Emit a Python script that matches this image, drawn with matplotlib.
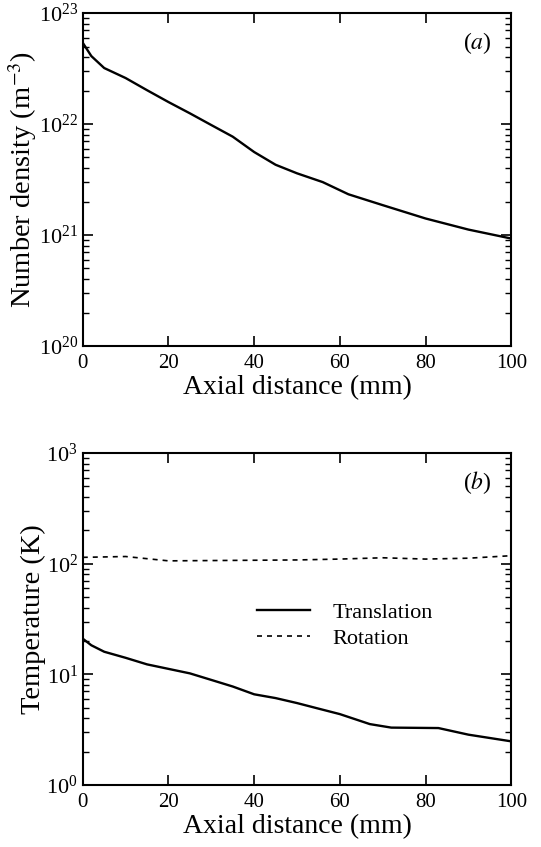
import matplotlib
matplotlib.use("Agg")
import matplotlib.pyplot as plt
from matplotlib.ticker import LogLocator, NullFormatter, FixedLocator

plt.rcParams['font.family'] = ['Liberation Serif', 'DejaVu Serif']
plt.rcParams['mathtext.fontset'] = 'stix'

# Panel (a): number density
xa = [0, 2, 5, 10, 15, 20, 25, 30, 35, 40, 45, 50, 56, 62, 70, 80, 90, 100]
density = [5.4e22, 4.1e22, 3.2e22, 2.6e22, 2.02e22, 1.58e22, 1.25e22, 9.8e21, 7.7e21,
           5.6e21, 4.3e21, 3.6e21, 3.0e21, 2.33e21, 1.86e21, 1.41e21, 1.12e21, 9.3e20]

# Panel (b): temperatures
xt = [0, 2, 5, 10, 15, 20, 25, 30, 35, 40, 45, 50, 55, 60, 67, 72, 83, 90, 100]
t_trans = [21, 18.3, 16, 14.1, 12.3, 11.2, 10.2, 8.9, 7.76, 6.6, 6.1, 5.5, 4.9, 4.37,
           3.55, 3.3, 3.27, 2.85, 2.48]
xr = [0, 10, 20, 35, 50, 60, 70, 80, 90, 100]
t_rot = [114, 116, 106, 107, 108, 110, 113, 110, 112, 118]

xticks = [0, 20, 40, 60, 80, 100]

fig = plt.figure(figsize=(5.41, 8.47), dpi=100)
ax1 = fig.add_axes([0.153, 0.5915, 0.792, 0.393])
ax2 = fig.add_axes([0.153, 0.0732, 0.792, 0.392])

def style(ax, ylo, yhi, ylabel):
    ax.set_yscale('log')
    ax.set_xlim(0, 100)
    ax.set_ylim(ylo, yhi)
    ax.xaxis.set_major_locator(FixedLocator(xticks))
    ax.yaxis.set_major_locator(LogLocator(base=10, numticks=10))
    ax.yaxis.set_minor_locator(LogLocator(base=10, subs=range(2, 10), numticks=10))
    ax.yaxis.set_minor_formatter(NullFormatter())
    ax.tick_params(which='both', direction='in', top=True, right=True)
    ax.tick_params(axis='x', labelsize=15, pad=6)
    ax.tick_params(axis='y', labelsize=16)
    ax.tick_params(which='major', length=7, width=1.2)
    ax.tick_params(which='minor', length=4, width=1.0)
    for s in ax.spines.values():
        s.set_linewidth(1.5)
    ax.set_xlabel('Axial distance (mm)', fontsize=20, labelpad=1)
    ax.set_ylabel(ylabel, fontsize=20.5, labelpad=0)

ax1.plot(xa, density, color='black', lw=1.7)
style(ax1, 1e20, 1e23, 'Number density (m$^{-3}$)')
ax1.text(0.955, 0.91, '($a$)', transform=ax1.transAxes, ha='right', va='center', fontsize=17)

ax2.plot(xt, t_trans, color='black', lw=1.7, label='Translation')
ax2.plot(xr, t_rot, color='black', lw=1.2, ls=(0, (3, 3)), label='Rotation')
style(ax2, 1, 1e3, 'Temperature (K)')
ax2.text(0.955, 0.91, '($b$)', transform=ax2.transAxes, ha='right', va='center', fontsize=17)
ax2.legend(loc='upper left', bbox_to_anchor=(0.36, 0.61), frameon=False, fontsize=16,
           handlelength=2.4, handletextpad=1.0, labelspacing=0.25)

fig.savefig('out.png', dpi=100)
